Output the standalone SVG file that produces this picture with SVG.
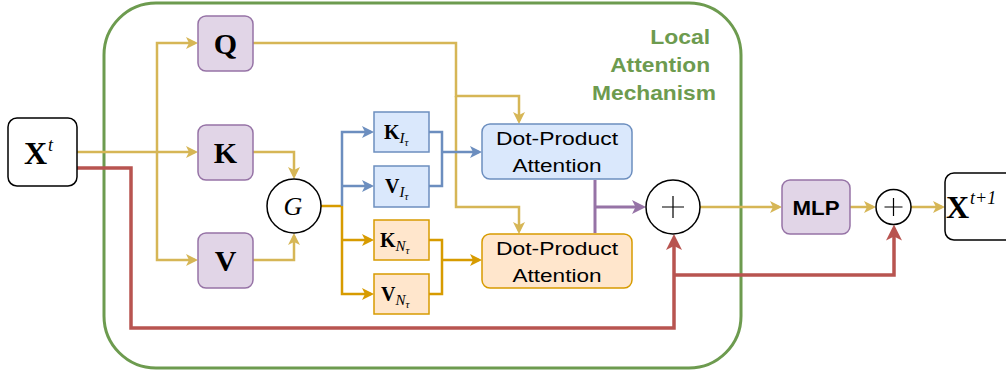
<svg xmlns="http://www.w3.org/2000/svg" width="1006" height="372" viewBox="0 0 1006 372">
<style>
.math{font-family:"Liberation Serif","DejaVu Serif",serif;font-weight:bold;fill:#000}
.it{font-family:"Liberation Serif","DejaVu Serif",serif;font-style:italic;font-weight:normal}
.sans{font-family:"Liberation Sans",Arial,sans-serif;fill:#000}
.y{fill:none;stroke:#d6b656;stroke-width:2.5}
.bl{fill:none;stroke:#6c8ebf;stroke-width:2.5}
.or{fill:none;stroke:#d79b00;stroke-width:2.5}
.rd{fill:none;stroke:#b85450;stroke-width:3.5}
.pu{fill:none;stroke:#9673a6;stroke-width:3}
.purple{fill:#e1d5e7;stroke:#9673a6;stroke-width:1.5}
.blue{fill:#dae8fc;stroke:#6c8ebf;stroke-width:1.5}
.orange{fill:#ffe6cc;stroke:#d79b00;stroke-width:1.5}
</style>
<defs>
<marker id="ay" markerUnits="userSpaceOnUse" markerWidth="14" markerHeight="14" refX="9" refY="6" orient="auto" overflow="visible"><path d="M0,0 L12,6 L0,12 L3,6 Z" fill="#d6b656"/></marker>
<marker id="ab" markerUnits="userSpaceOnUse" markerWidth="14" markerHeight="14" refX="9" refY="6" orient="auto" overflow="visible"><path d="M0,0 L12,6 L0,12 L3,6 Z" fill="#6c8ebf"/></marker>
<marker id="ao" markerUnits="userSpaceOnUse" markerWidth="14" markerHeight="14" refX="9" refY="6" orient="auto" overflow="visible"><path d="M0,0 L12,6 L0,12 L3,6 Z" fill="#d79b00"/></marker>
<marker id="ap" markerUnits="userSpaceOnUse" markerWidth="16" markerHeight="16" refX="10" refY="7" orient="auto" overflow="visible"><path d="M0,0 L14,7 L0,14 L3.5,7 Z" fill="#9673a6"/></marker>
<marker id="ar" markerUnits="userSpaceOnUse" markerWidth="18" markerHeight="18" refX="12" refY="8" orient="auto" overflow="visible"><path d="M0,0 L16,8 L0,16 L4,8 Z" fill="#b85450"/></marker>
</defs>
<rect width="1006" height="372" fill="#fff"/>

<g id="container">
<rect x="104" y="3" width="637" height="365" rx="52" ry="52" fill="none" stroke="#6d9b4f" stroke-width="3"/>
<text class="sans" text-anchor="end" font-size="21" font-weight="bold" style="fill:#6d9b4f">
<tspan x="716" y="44" textLength="60" lengthAdjust="spacingAndGlyphs">Local</tspan>
<tspan x="716" y="72" textLength="100" lengthAdjust="spacingAndGlyphs">Attention</tspan>
<tspan x="716" y="100" textLength="124" lengthAdjust="spacingAndGlyphs">Mechanism</tspan>
</text>
</g>

<g id="connectors">
<path class="y" d="M77,152 H195" marker-end="url(#ay)"/>
<path class="y" d="M157,152 V43 H195" marker-end="url(#ay)"/>
<path class="y" d="M157,152 V260 H195" marker-end="url(#ay)"/>
<path class="y" d="M253,152 H294 V176" marker-end="url(#ay)"/>
<path class="y" d="M253,260 H294 V236" marker-end="url(#ay)"/>
<path class="y" d="M253,43 H456 V96 H519 V121" marker-end="url(#ay)"/>
<path class="y" d="M456,96 V207 H519 V231" marker-end="url(#ay)"/>
<path class="or" d="M321,206 H342"/>
<path class="bl" d="M342,206 V132 H371" marker-end="url(#ab)"/>
<path class="bl" d="M342,186 H371" marker-end="url(#ab)"/>
<path class="or" d="M342,206 V294 H371" marker-end="url(#ao)"/>
<path class="or" d="M342,240 H371" marker-end="url(#ao)"/>
<path class="bl" d="M429,132 H442 V186 H429"/>
<path class="bl" d="M442,152 H479" marker-end="url(#ab)"/>
<path class="or" d="M429,240 H442 V294 H429"/>
<path class="or" d="M442,260 H479" marker-end="url(#ao)"/>
<path class="pu" d="M595,180 V233"/>
<path class="pu" d="M595,207 H642" marker-end="url(#ap)"/>
<path class="y" d="M700,207 H779" marker-end="url(#ay)"/>
<path class="y" d="M850,207 H873" marker-end="url(#ay)"/>
<path class="y" d="M911,207 H942" marker-end="url(#ay)"/>
<path class="rd" d="M77,168 H131 V328 H674 V238" marker-end="url(#ar)"/>
<path class="rd" d="M674,275 H894 V228.5" marker-end="url(#ar)"/>
</g>

<g id="node-xt">
<rect x="8" y="118" width="69" height="68" rx="9" fill="#fff" stroke="#000" stroke-width="1.5"/>
<text class="math" x="24" y="164" font-size="32">X<tspan class="it" font-size="18" dy="-13" dx="1">t</tspan></text>
</g>
<g id="node-q">
<rect class="purple" x="198" y="16" width="55" height="55" rx="8"/>
<text class="math" x="225.5" y="54" font-size="30" text-anchor="middle">Q</text>
</g>
<g id="node-k">
<rect class="purple" x="198" y="125" width="55" height="55" rx="8"/>
<text class="math" x="225.5" y="163" font-size="30" text-anchor="middle">K</text>
</g>
<g id="node-v">
<rect class="purple" x="198" y="233" width="55" height="55" rx="8"/>
<text class="math" x="225.5" y="271" font-size="30" text-anchor="middle">V</text>
</g>
<g id="node-g">
<circle cx="294" cy="206" r="27" fill="#fff" stroke="#000" stroke-width="1.5"/>
<text class="it" x="293" y="215" font-size="26" text-anchor="middle">G</text>
</g>
<g id="node-ki">
<rect class="blue" x="374" y="112" width="55" height="40"/>
<text class="math" x="384" y="139" font-size="20">K<tspan class="it" font-size="15" dy="4">I</tspan><tspan class="it" font-size="11" dy="3">τ</tspan></text>
</g>
<g id="node-vi">
<rect class="blue" x="374" y="166" width="55" height="41"/>
<text class="math" x="385" y="193" font-size="20">V<tspan class="it" font-size="15" dy="4">I</tspan><tspan class="it" font-size="11" dy="3">τ</tspan></text>
</g>
<g id="node-kn">
<rect class="orange" x="374" y="220" width="55" height="40"/>
<text class="math" x="380" y="247" font-size="20">K<tspan class="it" font-size="15" dy="4">N</tspan><tspan class="it" font-size="11" dy="3">τ</tspan></text>
</g>
<g id="node-vn">
<rect class="orange" x="374" y="274" width="55" height="40"/>
<text class="math" x="381" y="301" font-size="20">V<tspan class="it" font-size="15" dy="4">N</tspan><tspan class="it" font-size="11" dy="3">τ</tspan></text>
</g>
<g id="node-dpa1">
<rect class="blue" x="482" y="124" width="150" height="55" rx="8"/>
<text class="sans" x="557" y="145" font-size="18" text-anchor="middle" textLength="122" lengthAdjust="spacingAndGlyphs">Dot-Product</text>
<text class="sans" x="557" y="172" font-size="18" text-anchor="middle" textLength="89" lengthAdjust="spacingAndGlyphs">Attention</text>
</g>
<g id="node-dpa2">
<rect class="orange" x="482" y="234" width="150" height="54" rx="8"/>
<text class="sans" x="557" y="255" font-size="18" text-anchor="middle" textLength="122" lengthAdjust="spacingAndGlyphs">Dot-Product</text>
<text class="sans" x="557" y="282" font-size="18" text-anchor="middle" textLength="89" lengthAdjust="spacingAndGlyphs">Attention</text>
</g>
<g id="node-plus1">
<circle cx="673" cy="207" r="27" fill="#fff" stroke="#000" stroke-width="1.5"/>
<path d="M662,207 H684 M673,196 V218" stroke="#000" stroke-width="1.2" fill="none"/>
</g>
<g id="node-mlp">
<rect class="purple" x="782" y="180" width="68" height="54" rx="8"/>
<text class="sans" x="816" y="215" font-size="21" font-weight="bold" text-anchor="middle" textLength="47" lengthAdjust="spacingAndGlyphs">MLP</text>
</g>
<g id="node-plus2">
<circle cx="893.5" cy="207" r="17.5" fill="#fff" stroke="#000" stroke-width="1.5"/>
<path d="M884.5,207 H902.5 M893.5,198 V216" stroke="#000" stroke-width="1.2" fill="none"/>
</g>
<g id="node-xt1">
<rect x="945" y="173" width="75" height="67" rx="9" fill="#fff" stroke="#000" stroke-width="1.5"/>
<text class="math" x="946" y="218" font-size="32">X<tspan class="it" font-size="18" dy="-14" dx="1">t+1</tspan></text>
</g>
</svg>
